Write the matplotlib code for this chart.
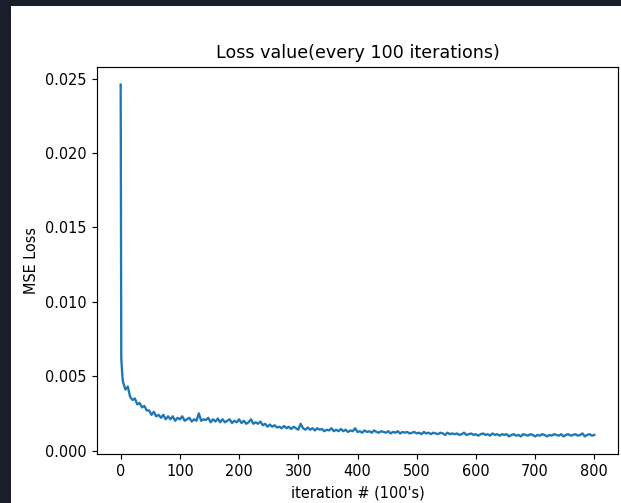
import matplotlib
matplotlib.use("Agg")
import matplotlib.pyplot as plt
import numpy as np
from matplotlib.patches import Rectangle

# Loss: first few points densely, then every 4 steps
X_EARLY = [0, 1, 2, 3, 4]
LOSS_EARLY = [0.0246, 0.0062, 0.0055, 0.0049, 0.0046]

X_REST = list(range(8, 801, 4))
LOSS_REST = [
    0.0041, 0.0043, 0.0036, 0.0034, 0.0035, 0.0031, 0.0032, 0.0029, 0.0030, 0.0027,
    0.0027, 0.0024, 0.0026, 0.0023, 0.0024, 0.0022, 0.0024, 0.0021, 0.0023, 0.0021,
    0.0023, 0.0020, 0.0022, 0.0021, 0.0023, 0.0020, 0.0021, 0.0022, 0.00195, 0.0021,
    0.0020, 0.0025, 0.0020, 0.0021, 0.00205, 0.0022, 0.0019, 0.0021, 0.00195, 0.00215,
    0.0019, 0.0021, 0.0019, 0.0020, 0.0021, 0.00185, 0.0020, 0.0019, 0.0021, 0.00185,
    0.0020, 0.0018, 0.0019, 0.0021, 0.0018, 0.0019, 0.0018, 0.00195, 0.0017, 0.0018,
    0.0016, 0.00175, 0.0016, 0.0017, 0.00155, 0.0016, 0.0015, 0.00165, 0.0015, 0.0016,
    0.00145, 0.0016, 0.0015, 0.0014, 0.0018, 0.0015, 0.0014, 0.00155, 0.0014, 0.0015,
    0.00135, 0.0015, 0.0014, 0.00145, 0.0013, 0.0014, 0.00135, 0.0015, 0.0013, 0.0014,
    0.0013, 0.00145, 0.0013, 0.0014, 0.00125, 0.00135, 0.0013, 0.0015, 0.00125, 0.0013,
    0.0012, 0.00135, 0.00125, 0.0013, 0.0012, 0.00135, 0.00125, 0.0012, 0.0013, 0.00125,
    0.0012, 0.0013, 0.00115, 0.00125, 0.0012, 0.0013, 0.00115, 0.00125, 0.0012, 0.00125,
    0.00115, 0.0012, 0.00125, 0.00115, 0.0012, 0.0011, 0.00125, 0.00115, 0.0012, 0.0011,
    0.0012, 0.00115, 0.0011, 0.0012, 0.00115, 0.00105, 0.0012, 0.0011, 0.00115, 0.0011,
    0.00115, 0.00105, 0.0011, 0.0012, 0.00105, 0.0011, 0.00115, 0.00105, 0.0011, 0.0010,
    0.0011, 0.00115, 0.00105, 0.0011, 0.0010, 0.00115, 0.00105, 0.0011, 0.0010, 0.0011,
    0.00105, 0.0011, 0.00095, 0.00105, 0.0011, 0.0010, 0.00105, 0.00095, 0.0011, 0.00105,
    0.0010, 0.0011, 0.00105, 0.00095, 0.00105, 0.0010, 0.0011, 0.00105, 0.00095, 0.00105,
    0.0010, 0.0011, 0.00105, 0.0010, 0.0011, 0.00095, 0.00105, 0.0011, 0.0010, 0.00105,
    0.0011, 0.0010, 0.00105, 0.00115, 0.00095, 0.00105, 0.0011, 0.0010, 0.00105,
]

TITLE = "Loss value(every 100 iterations)"
XLABEL = "iteration # (100's)"
YLABEL = "MSE Loss"

W, H = 621, 503
S = 1.048  # screenshot scale of a default 640x480 figure

fig = plt.figure(figsize=(W / 100, H / 100), dpi=100)
fig.patch.set_facecolor("#1a1e2a")
# white figure area inside the dark screenshot frame
fig.patches.append(Rectangle((11 / W, 0), (W - 11) / W, (H - 6) / H,
                             transform=fig.transFigure, facecolor="white",
                             edgecolor="none", zorder=-10))

ax = fig.add_axes([97 / W, (H - 454) / H, (618 - 97) / W, (454 - 67) / H])
ax.set_zorder(1)
x = np.array(X_EARLY + X_REST)
y = np.array(LOSS_EARLY + LOSS_REST)
ax.plot(x, y, color="#1f77b4", linewidth=1.6 * S)

ax.set_xticks([0, 100, 200, 300, 400, 500, 600, 700, 800])
ax.set_title(TITLE, fontsize=12 * S, pad=6 * S)
ax.set_xlabel(XLABEL, fontsize=10 * S, labelpad=4 * S)
ax.set_ylabel(YLABEL, fontsize=10 * S, labelpad=4 * S)
ax.tick_params(labelsize=10 * S, length=3.5 * S, width=0.8 * S, pad=3.5 * S)
for sp in ax.spines.values():
    sp.set_linewidth(0.8 * S)

fig.savefig("out.png", dpi=100, facecolor=fig.get_facecolor())
